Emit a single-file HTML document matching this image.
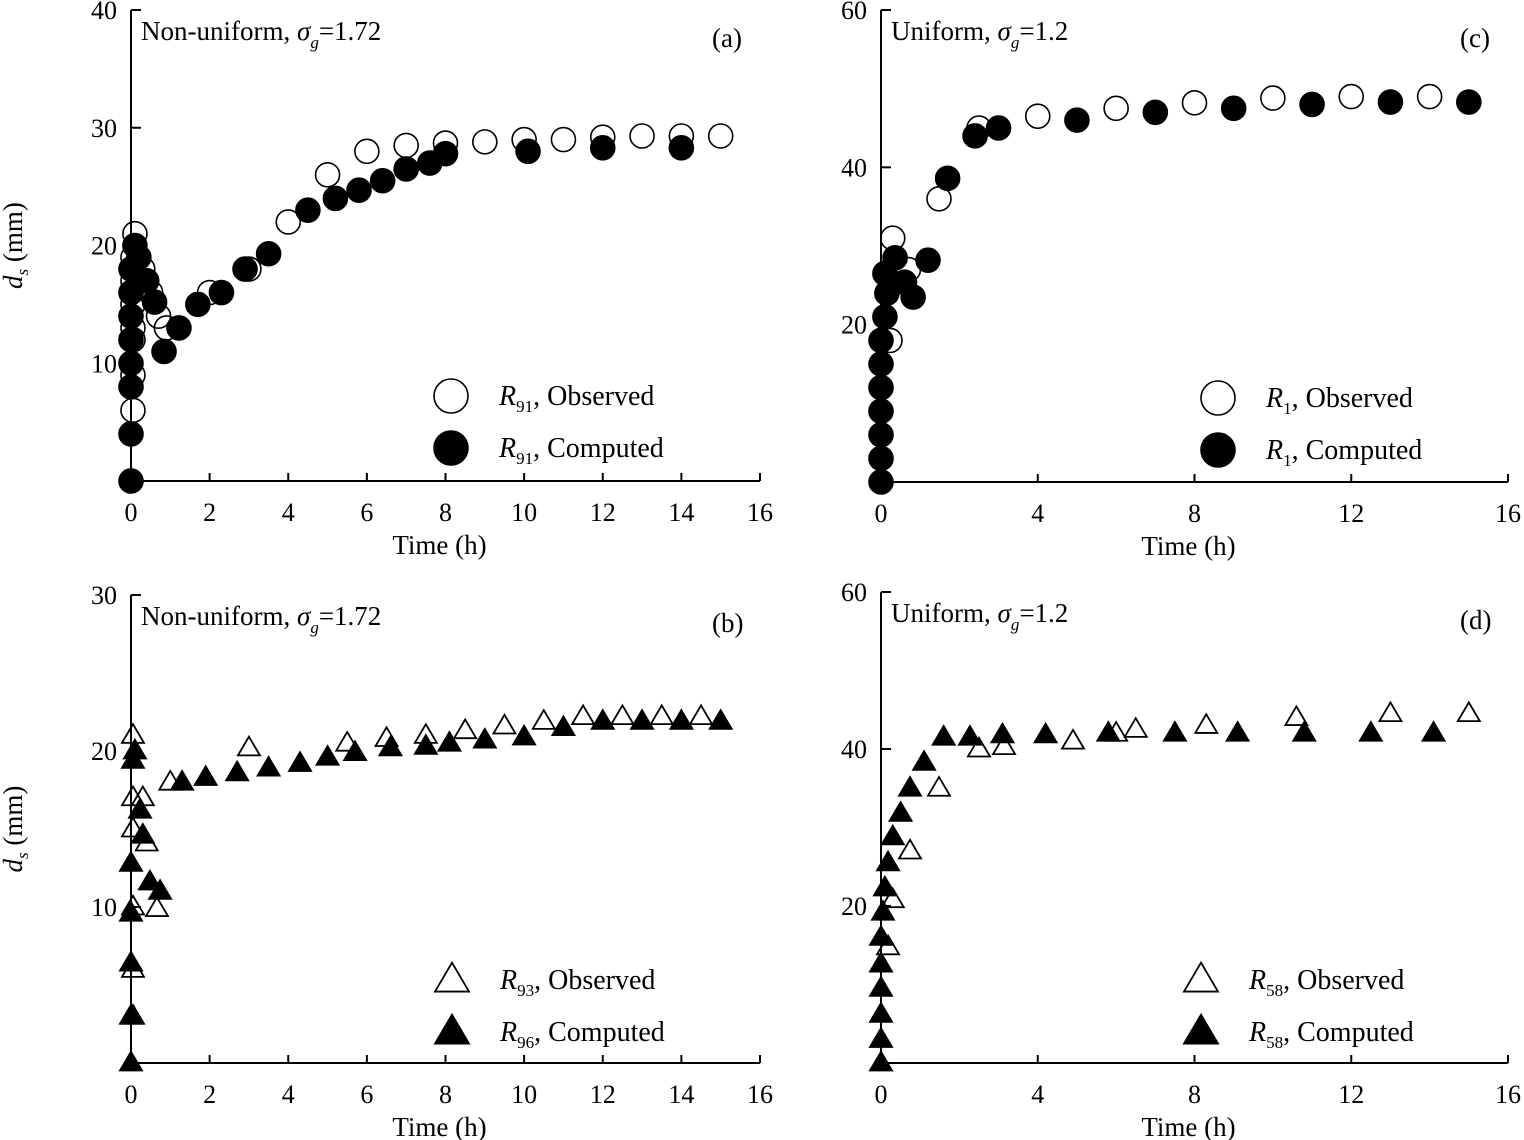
<!DOCTYPE html>
<html><head><meta charset="utf-8"><style>
html,body{margin:0;padding:0;background:#fff;}
svg{display:block;font-family:"Liberation Serif",serif;}
</style></head><body>
<svg id="fig" width="1524" height="1140" viewBox="0 0 1524 1140" xmlns="http://www.w3.org/2000/svg"></svg>
<script>
// Panel (a)
const aObsT=[0.05,0.05,0.05,0.05,0.05,0.05,0.05,0.1,0.3,0.5,0.7,0.9,2.0,3.0,4.0,5.0,6.0,7.0,8.0,9.0,10.0,11.0,12.0,13.0,14.0,15.0];
const aObsV=[6,9,12,13,15,17,19,21,18,16,14,13,16,18,22,26,28,28.5,28.7,28.8,29,29,29.2,29.3,29.3,29.3];
const aComT=[0,0,0,0,0,0,0,0,0.1,0.2,0.4,0.6,0.84,1.22,1.7,2.3,2.9,3.5,4.5,5.2,5.8,6.4,7.0,7.6,8.0,10.1,12.0,14.0];
const aComV=[0,4,8,10,12,14,16,18,20,19,17,15.2,11,13,15,16,18,19.3,23,24,24.7,25.5,26.5,27,27.8,28,28.3,28.3];
// Panel (c)
const cObsT=[0.23,0.7,0.3,1.48,2.5,4,6,8,10,12,14];
const cObsV=[18,27,31,36,45,46.5,47.5,48.2,48.8,49,49];
const cComT=[0,0,0,0,0,0,0,0.1,0.15,0.1,0.36,0.6,0.82,1.2,1.7,2.4,3,5,7,9,11,13,15];
const cComV=[0,3,6,9,12,15,18,21,24,26.5,28.5,25.4,23.5,28.2,38.6,44,45,46,47,47.5,48,48.3,48.3];
// Panel (b)
const bObsT=[0.05,0.05,0.3,0.05,0.4,0.05,0.66,0.05,0.05,1.0,3.0,5.5,6.5,7.5,8.5,9.5,10.5,11.5,12.5,13.5,14.5];
const bObsV=[21,17,17,15,14.1,10,9.9,6,3,18,20.2,20.5,20.8,21,21.3,21.6,21.9,22.2,22.2,22.2,22.2];
const bComT=[0,0,0,0,0,0.1,0.05,0.23,0.3,0.48,0.74,1.3,1.9,2.7,3.5,4.3,5.0,5.7,6.6,7.5,8.1,9.0,10.0,11.0,12.0,13.0,14.0,15.0];
const bComV=[0,3,6.4,9.6,12.8,20,19.4,16.2,14.6,11.6,11,18,18.3,18.6,18.9,19.2,19.6,19.9,20.2,20.3,20.5,20.7,20.9,21.5,21.9,21.9,21.9,21.9];
// Panel (d)
const dObsT=[0.18,0.3,0.74,1.48,2.5,3.14,4.9,6.0,6.5,8.3,10.6,13.0,15.0];
const dObsV=[14.8,20.8,27,35,40,40.3,41,42,42.5,43,44,44.5,44.5];
const dComT=[0,0,0,0,0,0,0.05,0.1,0.18,0.3,0.5,0.74,1.1,1.6,2.27,3.1,4.2,5.8,7.5,9.1,10.8,12.5,14.1];
const dComV=[0,3,6.2,9.5,12.6,16,19.2,22.3,25.5,28.8,31.8,35,38.3,41.5,41.5,41.8,41.8,42,42,42,42,42,42];
const xTicksAB=[0,2,4,6,8,10,12,14,16];
const xTicksCD=[0,4,8,12,16];

const NS="http://www.w3.org/2000/svg";
const svg=document.getElementById('fig');
function mk(tag,attrs,parent){const e=document.createElementNS(NS,tag);for(const k in attrs)e.setAttribute(k,attrs[k]);(parent||svg).appendChild(e);return e;}

function panel(p){
  const g=mk('g',{});
  
  
  const sx=t=>p.x0+(t/16)*(p.x1-p.x0);
  const sy=v=>p.y0-(v/p.ymax)*(p.y0-p.y1);
  const ax=mk('path',{d:`M${p.x0},${p.y1}V${p.y0}H${sx(16)}`,stroke:'#000','stroke-width':2,fill:'none'},g);
  
  
  p.xt.forEach(t=>{
    mk('line',{x1:sx(t),x2:sx(t),y1:p.y0,y2:p.y0-8,stroke:'#000','stroke-width':2},g);
    const tx=mk('text',{x:sx(t),y:p.y0+40,'font-size':26,'text-anchor':'middle'},g);
    tx.textContent=t;
    
    
  });
  p.yt.forEach(v=>{
    mk('line',{x1:p.x0,x2:p.x0+10,y1:sy(v),y2:sy(v),stroke:'#000','stroke-width':2},g);
    const tx=mk('text',{x:p.x0-14,y:sy(v)+9,'font-size':26,'text-anchor':'end'},g);
    tx.textContent=v;
    
    
  });
  const xl=mk('text',{x:p.x0+(p.x1-p.x0)/2-6,y:p.y0+73,'font-size':27,'text-anchor':'middle'},g);
  xl.textContent='Time (h)';
  
  
  if(p.ylab){
    const yl=mk('text',{transform:`translate(22,${(p.y0+p.y1)/2}) rotate(-90)`,'font-size':27,'text-anchor':'middle'},g);
    yl.innerHTML='<tspan font-style="italic">d</tspan><tspan font-style="italic" font-size="17" dy="6">s</tspan><tspan dy="-6"> (mm)</tspan>';
    
    
  }
  const tt=mk('text',{x:p.x0+10,y:p.y1+30,'font-size':27},g);
  tt.innerHTML=p.title+', <tspan font-style="italic">σ</tspan><tspan font-style="italic" font-size="17" dy="8">g</tspan><tspan dy="-8">='+p.sg+'</tspan>';
  
  
  const lb=mk('text',{x:sx(16)-48,y:p.y1+37,'font-size':27},g);
  lb.textContent='('+p.id+')';
  
  
  function marker(x,y,fill,r,parent){
    if(p.shape==='circle') return mk('circle',{cx:x,cy:y,r:r,fill:fill,stroke:'#000','stroke-width':1.6},parent);
    const h=r*1.7;
    return mk('polygon',{points:`${x},${y-h*0.6} ${x-r},${y+h*0.4} ${x+r},${y+h*0.4}`,fill:fill,stroke:'#000','stroke-width':1.8},parent);
  }
  const so=mk('g',{},g);
  
  
  p.oT.forEach((t,i)=>{const m=marker(sx(t),sy(p.oV[i]),'none',p.r,so);
    
    });
  const sc=mk('g',{},g);
  
  
  p.cT.forEach((t,i)=>{const m=marker(sx(t),sy(p.cV[i]),'#000',p.r,sc);
    
    });
  [[p.leg1,'none','Observed',0],[p.leg2,'#000','Computed',52]].forEach(([sub,f,w,dy])=>{
    const le=mk('g',{},g);
    
    
    marker(p.lx,p.ly+dy,f,17,le);
    const t=mk('text',{x:p.lx+48,y:p.ly+dy+9,'font-size':28},le);
    t.innerHTML='<tspan font-style="italic">R</tspan><tspan font-size="17" dy="7">'+sub+'</tspan><tspan dy="-7">, '+w+'</tspan>';
  });
}
panel({id:'a',x0:131,x1:760,y0:481,y1:10,ymax:40,xt:xTicksAB,yt:[10,20,30,40],ylab:true,title:'Non-uniform',sg:'1.72',shape:'circle',r:12,oT:aObsT,oV:aObsV,cT:aComT,cV:aComV,leg1:'91',leg2:'91',lx:451,ly:396});
panel({id:'c',x0:881,x1:1508,y0:482,y1:10,ymax:60,xt:xTicksCD,yt:[20,40,60],ylab:false,title:'Uniform',sg:'1.2',shape:'circle',r:12,oT:cObsT,oV:cObsV,cT:cComT,cV:cComV,leg1:'1',leg2:'1',lx:1218,ly:398});
panel({id:'b',x0:131,x1:760,y0:1063,y1:595,ymax:30,xt:xTicksAB,yt:[10,20,30],ylab:true,title:'Non-uniform',sg:'1.72',shape:'tri',r:11,oT:bObsT,oV:bObsV,cT:bComT,cV:bComV,leg1:'93',leg2:'96',lx:452,ly:980});
panel({id:'d',x0:881,x1:1508,y0:1063,y1:592,ymax:60,xt:xTicksCD,yt:[20,40,60],ylab:false,title:'Uniform',sg:'1.2',shape:'tri',r:11,oT:dObsT,oV:dObsV,cT:dComT,cV:dComV,leg1:'58',leg2:'58',lx:1201,ly:980});
</script>
</body></html>
